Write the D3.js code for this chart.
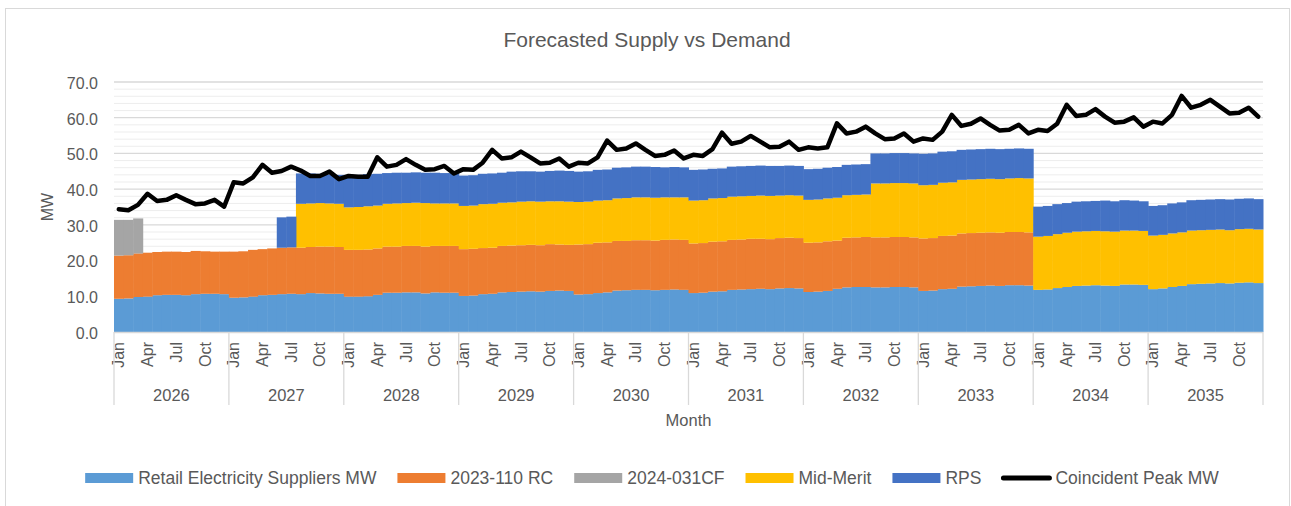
<!DOCTYPE html>
<html>
<head>
<meta charset="utf-8">
<script src="https://cdn.jsdelivr.net/npm/d3@7"></script>
<style>
  body { margin: 0; background: #fff; }
  svg { display: block; font-family: "Liberation Sans", Arial, sans-serif; }
  text { fill: #595959; }
</style>
</head>
<body>
<div id="chart"></div>
<script>
const years = [2026, 2027, 2028, 2029, 2030, 2031, 2032, 2033, 2034, 2035];
const monthNames = ["Jan", "Feb", "Mar", "Apr", "May", "Jun", "Jul", "Aug", "Sep", "Oct", "Nov", "Dec"];
const shownMonths = ["Jan", "Apr", "Jul", "Oct"];
const yTicks = [0, 10, 20, 30, 40, 50, 60, 70];

// one line per year, Jan..Dec
const retail = [
    9.3, 9.4, 9.8, 9.9, 10.3, 10.4, 10.4, 10.3, 10.6, 10.7, 10.7, 10.6,
    9.6, 9.7, 9.9, 10.3, 10.4, 10.6, 10.7, 10.6, 10.9, 10.8, 10.7, 10.7,
    9.9, 9.9, 10.0, 10.4, 11.0, 11.0, 11.1, 11.1, 10.8, 11.1, 11.0, 11.0,
    10.1, 10.2, 10.6, 10.7, 11.1, 11.2, 11.3, 11.4, 11.3, 11.5, 11.6, 11.5,
    10.5, 10.6, 10.9, 11.1, 11.6, 11.7, 11.8, 11.8, 11.7, 11.8, 11.9, 11.8,
    10.9, 11.0, 11.3, 11.4, 11.8, 11.9, 12.0, 12.1, 12.0, 12.2, 12.3, 12.2,
    11.2, 11.3, 11.5, 12.1, 12.5, 12.6, 12.6, 12.5, 12.5, 12.6, 12.6, 12.5,
    11.5, 11.6, 12.0, 12.1, 12.7, 12.8, 12.9, 13.0, 12.9, 13.1, 13.1, 13.0,
    11.8, 11.9, 12.3, 12.6, 12.9, 13.0, 13.1, 13.0, 12.9, 13.3, 13.3, 13.2,
    12.0, 12.2, 12.6, 12.9, 13.4, 13.5, 13.6, 13.7, 13.6, 13.8, 13.9, 13.7
];

const rc2023 = [
    12.1, 12.1, 12.2, 12.3, 12.1, 12.1, 12.1, 12.1, 12.1, 11.9, 11.8, 11.9,
    12.9, 12.9, 13.1, 12.9, 13.0, 13.0, 13.0, 13.0, 12.9, 13.1, 13.2, 13.1,
    13.1, 13.1, 13.1, 13.0, 12.9, 12.9, 13.0, 13.0, 13.1, 13.0, 13.1, 13.1,
    13.1, 13.1, 12.9, 12.9, 13.0, 13.0, 13.0, 13.0, 13.0, 13.1, 12.9, 12.9,
    14.0, 14.0, 14.1, 14.0, 13.9, 13.8, 13.9, 13.9, 13.9, 14.0, 14.0, 14.0,
    13.9, 13.9, 14.0, 14.0, 14.0, 14.0, 14.1, 14.0, 14.0, 14.1, 14.1, 14.1,
    13.8, 13.8, 13.9, 13.5, 13.9, 13.9, 14.0, 14.0, 14.0, 14.0, 14.0, 14.0,
    14.7, 14.7, 14.9, 14.9, 14.9, 14.9, 14.9, 14.9, 14.9, 14.9, 14.9, 14.9,
    0, 0, 0, 0, 0, 0, 0, 0, 0, 0, 0, 0,
    0, 0, 0, 0, 0, 0, 0, 0, 0, 0, 0, 0
];

const cf2024 = [
    10.0, 9.9, 9.8, 0, 0, 0, 0, 0, 0, 0, 0, 0,
    0, 0, 0, 0, 0, 0, 0, 0, 0, 0, 0, 0,
    0, 0, 0, 0, 0, 0, 0, 0, 0, 0, 0, 0,
    0, 0, 0, 0, 0, 0, 0, 0, 0, 0, 0, 0,
    0, 0, 0, 0, 0, 0, 0, 0, 0, 0, 0, 0,
    0, 0, 0, 0, 0, 0, 0, 0, 0, 0, 0, 0,
    0, 0, 0, 0, 0, 0, 0, 0, 0, 0, 0, 0,
    0, 0, 0, 0, 0, 0, 0, 0, 0, 0, 0, 0,
    0, 0, 0, 0, 0, 0, 0, 0, 0, 0, 0, 0,
    0, 0, 0, 0, 0, 0, 0, 0, 0, 0, 0, 0
];

const midMerit = [
    0, 0, 0, 0, 0, 0, 0, 0, 0, 0, 0, 0,
    0, 0, 0, 0, 0, 0, 0, 12.3, 12.2, 12.2, 12.1, 12.1,
    11.9, 12.0, 12.1, 12.0, 12.0, 12.1, 12.0, 12.1, 12.2, 11.9, 11.9, 11.9,
    12.1, 12.1, 12.3, 12.3, 12.1, 12.1, 12.2, 12.2, 12.2, 12.0, 12.1, 12.1,
    11.9, 11.9, 11.8, 11.8, 11.9, 12.0, 12.0, 12.0, 12.0, 11.9, 11.8, 11.9,
    12.0, 12.0, 12.1, 12.1, 12.1, 12.1, 12.0, 12.1, 12.1, 11.9, 11.9, 11.9,
    12.0, 12.0, 12.0, 12.0, 11.9, 11.9, 11.9, 15.1, 15.1, 15.1, 15.1, 15.1,
    14.9, 14.9, 14.9, 14.9, 15.0, 15.0, 15.0, 15.0, 15.0, 15.0, 15.1, 15.1,
    14.9, 15.0, 15.1, 15.2, 15.2, 15.2, 15.2, 15.2, 15.2, 15.1, 15.1, 15.1,
    15.0, 15.0, 15.0, 15.0, 15.0, 15.0, 15.0, 15.0, 14.9, 15.0, 15.0, 15.0
];

const rps = [
    0, 0, 0, 0, 0, 0, 0, 0, 0, 0, 0, 0,
    0, 0, 0, 0, 0, 8.5, 8.6, 8.5, 8.4, 8.2, 8.1, 8.1,
    9.1, 9.0, 9.0, 8.9, 8.6, 8.6, 8.5, 8.5, 8.5, 8.6, 8.5, 8.5,
    8.5, 8.5, 8.5, 8.5, 8.4, 8.6, 8.5, 8.4, 8.4, 8.5, 8.6, 8.6,
    8.5, 8.5, 8.6, 8.6, 8.6, 8.6, 8.6, 8.6, 8.6, 8.4, 8.5, 8.4,
    8.6, 8.6, 8.3, 8.3, 8.4, 8.4, 8.4, 8.4, 8.4, 8.3, 8.3, 8.3,
    8.6, 8.6, 8.6, 8.6, 8.5, 8.5, 8.5, 8.4, 8.4, 8.4, 8.4, 8.4,
    8.8, 8.8, 8.7, 8.7, 8.4, 8.4, 8.4, 8.4, 8.4, 8.3, 8.3, 8.3,
    8.4, 8.4, 8.4, 8.3, 8.4, 8.4, 8.4, 8.6, 8.5, 8.5, 8.4, 8.3,
    8.3, 8.3, 8.4, 8.4, 8.5, 8.5, 8.5, 8.5, 8.6, 8.5, 8.5, 8.5
];

const peak = [
    34.4, 34.1, 35.6, 38.7, 36.7, 37.0, 38.3, 37.0, 35.8, 36.0, 37.0, 35.1,
    41.9, 41.6, 43.3, 46.8, 44.6, 45.1, 46.3, 45.2, 43.7, 43.7, 44.9, 42.8,
    43.7, 43.5, 43.5, 48.9, 46.3, 46.8, 48.4, 46.8, 45.4, 45.6, 46.5, 44.4,
    45.6, 45.4, 47.4, 51.0, 48.6, 48.9, 50.5, 48.9, 47.2, 47.4, 48.6, 46.3,
    47.4, 47.2, 48.9, 53.6, 51.0, 51.4, 52.8, 51.0, 49.3, 49.6, 50.8, 48.6,
    49.6, 49.3, 51.2, 55.8, 52.7, 53.3, 54.9, 53.3, 51.7, 51.9, 53.3, 51.0,
    51.7, 51.4, 51.7, 58.4, 55.6, 56.1, 57.5, 55.6, 54.0, 54.2, 55.6, 53.3,
    54.2, 53.8, 56.1, 60.8, 57.7, 58.3, 59.8, 58.0, 56.4, 56.6, 58.0, 55.6,
    56.6, 56.3, 58.3, 63.6, 60.5, 60.8, 62.4, 60.3, 58.6, 58.9, 60.1, 57.5,
    58.9, 58.4, 60.8, 66.1, 62.8, 63.6, 65.0, 63.1, 61.2, 61.4, 62.8, 60.3
];

const seriesNames = ["Retail Electricity Suppliers MW", "2023-110 RC", "2024-031CF", "Mid-Merit", "RPS"];
const seriesValues = [retail, rc2023, cf2024, midMerit, rps];
const colors = ["#5B9BD5", "#ED7D31", "#A5A5A5", "#FFC000", "#4472C4"];
const lineName = "Coincident Peak MW";

const months = years.flatMap(yr => monthNames.map(m => ({ year: yr, month: m })));
const rows = months.map((d, i) => {
    const row = { i };
    seriesNames.forEach((name, k) => { row[name] = seriesValues[k][i]; });
    return row;
});

const totalW = 1291;
const totalH = 506;
const margin = { top: 82, right: 28, bottom: 174, left: 114 };
const width = totalW - margin.left - margin.right;
const height = totalH - margin.top - margin.bottom;

const root = d3.select("#chart")
    .append("svg")
    .attr("width", totalW)
    .attr("height", totalH);

// outer chart border
root.append("rect")
    .attr("x", 5.5).attr("y", 8.5)
    .attr("width", 1284).attr("height", 520)
    .attr("fill", "none")
    .attr("stroke", "#D9D9D9");

root.append("text")
    .attr("x", 647).attr("y", 47)
    .attr("text-anchor", "middle")
    .style("font-size", "21px")
    .text("Forecasted Supply vs Demand");

const svg = root.append("g")
    .attr("transform", `translate(${margin.left},${margin.top})`);

const x = d3.scaleBand()
    .domain(d3.range(months.length))
    .range([0, width])
    .padding(0);
const bw = x.bandwidth();

const y = d3.scaleLinear()
    .domain([0, 70])
    .range([height, 0]);

// gridlines: minor every 2, major every 10
const minor = d3.range(2, 70, 2).filter(v => v % 10 !== 0);
svg.append("g")
    .selectAll("line")
    .data(minor)
    .join("line")
    .attr("x1", 0).attr("x2", width)
    .attr("y1", d => y(d)).attr("y2", d => y(d))
    .attr("stroke", "#EDEDED")
    .attr("stroke-width", 1);

svg.append("g")
    .selectAll("line")
    .data(yTicks.filter(v => v > 0))
    .join("line")
    .attr("x1", 0).attr("x2", width)
    .attr("y1", d => y(d)).attr("y2", d => y(d))
    .attr("stroke", "#D9D9D9")
    .attr("stroke-width", 1.3);

const stacked = d3.stack().keys(seriesNames)(rows);

svg.append("g")
    .selectAll("g")
    .data(stacked)
    .join("g")
    .attr("fill", (d, k) => colors[k])
    .selectAll("rect")
    .data(d => d.filter(p => p[1] - p[0] > 0))
    .join("rect")
    .attr("x", p => x(p.data.i))
    .attr("width", bw + 0.5)
    .attr("y", p => y(p[1]))
    .attr("height", p => y(p[0]) - y(p[1]));

// category axis
svg.append("line")
    .attr("x1", 0).attr("x2", width)
    .attr("y1", height + 0.5).attr("y2", height + 0.5)
    .attr("stroke", "#D9D9D9")
    .attr("stroke-width", 1.3);

const xAxis = d3.axisBottom(x)
    .tickValues(d3.range(months.length).filter(i => shownMonths.includes(months[i].month)))
    .tickFormat(i => months[i].month)
    .tickSize(0);

const xg = svg.append("g")
    .attr("transform", `translate(0,${height})`)
    .call(xAxis);
xg.select(".domain").remove();
xg.selectAll("text")
    .attr("fill", "#595959")
    .style("font-size", "16px")
    .attr("font-family", null)
    .attr("text-anchor", "end")
    .attr("x", 0).attr("y", 0)
    .attr("dy", "0.35em")
    .attr("transform", "translate(0,10) rotate(-90)");

d3.range(years.length + 1).forEach(k => {
    const xx = k === years.length ? width : x(k * 12);
    svg.append("line")
        .attr("x1", xx).attr("x2", xx)
        .attr("y1", height).attr("y2", height + 73)
        .attr("stroke", "#D9D9D9")
        .attr("stroke-width", 1.3);
});

svg.append("g")
    .selectAll("text")
    .data(years)
    .join("text")
    .attr("x", (d, k) => x(k * 12) + bw * 6)
    .attr("y", height + 69)
    .attr("text-anchor", "middle")
    .style("font-size", "16.5px")
    .text(d => d);

svg.append("text")
    .attr("x", width / 2)
    .attr("y", height + 94)
    .attr("text-anchor", "middle")
    .style("font-size", "16.5px")
    .text("Month");

// value axis
const yAxis = d3.axisLeft(y)
    .tickValues(yTicks)
    .tickFormat(d3.format(".1f"))
    .tickSize(0)
    .tickPadding(16);

const yg = svg.append("g").call(yAxis);
yg.select(".domain").remove();
yg.selectAll("text")
    .attr("fill", "#595959")
    .attr("font-family", null)
    .attr("dy", "0.4em")
    .style("font-size", "16px");

svg.append("text")
    .attr("transform", `translate(${47 - margin.left},${207 - margin.top}) rotate(-90)`)
    .attr("text-anchor", "middle")
    .attr("dy", "0.35em")
    .style("font-size", "16px")
    .text("MW");

// peak line
const line = d3.line()
    .x((d, i) => x(i) + bw / 2)
    .y(d => y(d));

svg.append("path")
    .datum(peak)
    .attr("fill", "none")
    .attr("stroke", "#000")
    .attr("stroke-width", 4.5)
    .attr("stroke-linejoin", "round")
    .attr("stroke-linecap", "round")
    .attr("d", line);

// legend
const legend = root.append("g").attr("transform", "translate(0,478)");
const items = seriesNames.map((name, k) => ({ name, color: colors[k], kind: "box" }))
    .concat([{ name: lineName, color: "#000", kind: "line" }]);

let cursor = 0;
items.forEach(it => {
    const g = legend.append("g");
    if (it.kind === "box") {
        g.append("rect")
            .attr("x", 0).attr("y", -5)
            .attr("width", 48).attr("height", 10)
            .attr("fill", it.color);
    } else {
        g.append("line")
            .attr("x1", 1).attr("x2", 47)
            .attr("y1", 0).attr("y2", 0)
            .attr("stroke", it.color)
            .attr("stroke-width", 5)
            .attr("stroke-linecap", "round");
    }
    const t = g.append("text")
        .attr("x", 53)
        .attr("dy", "0.35em")
        .style("font-size", "17.5px")
        .text(it.name);
    const w = 53 + t.node().getComputedTextLength();
    g.attr("transform", `translate(${cursor},0)`);
    cursor += w + 21;
});
const legendW = cursor - 21;
legend.attr("transform", `translate(${652 - legendW / 2},478)`);
</script>
</body>
</html>
